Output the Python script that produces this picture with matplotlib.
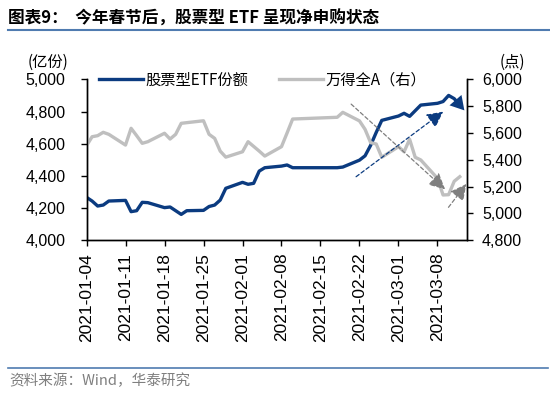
import pandas as pd
import matplotlib
matplotlib.use("Agg")
import matplotlib.pyplot as plt
import matplotlib.dates as mdates
from matplotlib.lines import Line2D
from matplotlib.ticker import StrMethodFormatter
from matplotlib.transforms import offset_copy

cjk = ['Noto Sans CJK SC', 'DejaVu Sans']
plt.rcParams['font.family'] = ['Liberation Sans', 'Noto Sans CJK SC', 'DejaVu Sans']

# trading days (Spring Festival break Feb 11-17)
dates = pd.to_datetime([
    '2021-01-04', '2021-01-05', '2021-01-06', '2021-01-07', '2021-01-08',
    '2021-01-11', '2021-01-12', '2021-01-13', '2021-01-14', '2021-01-15',
    '2021-01-18', '2021-01-19', '2021-01-20', '2021-01-21', '2021-01-22',
    '2021-01-25', '2021-01-26', '2021-01-27', '2021-01-28', '2021-01-29',
    '2021-02-01', '2021-02-02', '2021-02-03', '2021-02-04', '2021-02-05',
    '2021-02-08', '2021-02-09', '2021-02-10',
    '2021-02-18', '2021-02-19',
    '2021-02-22', '2021-02-23', '2021-02-24', '2021-02-25', '2021-02-26',
    '2021-03-01', '2021-03-02', '2021-03-03', '2021-03-04', '2021-03-05',
    '2021-03-08', '2021-03-09', '2021-03-10', '2021-03-11', '2021-03-12',
])

# 股票型ETF份额 (亿份), left axis
etf_share = [
    4267, 4244, 4213, 4219, 4244,
    4248, 4178, 4184, 4236, 4234,
    4203, 4207, 4184, 4161, 4184,
    4186, 4210, 4219, 4250, 4323,
    4360, 4348, 4354, 4430, 4451,
    4461, 4468, 4451,
    4451, 4455,
    4498, 4525, 4590, 4670, 4745,
    4772, 4789, 4770, 4805, 4840,
    4851, 4862, 4900, 4880, 4840,
]

# 万得全A (点), right axis
wind_a = [
    5505, 5572, 5580, 5605, 5590,
    5510, 5635, 5580, 5523, 5535,
    5598, 5555, 5590, 5672, 5677,
    5691, 5590, 5560, 5465, 5420,
    5460, 5535, 5500, 5465, 5428,
    5498, 5600, 5704,
    5717, 5754,
    5690, 5627, 5528, 5518, 5419,
    5498, 5460, 5553, 5419, 5399,
    5262, 5138, 5140, 5240, 5274,
]

tick_dates = pd.date_range('2021-01-04', '2021-03-08', freq='7D')
left_ticks = list(range(4000, 5001, 200))
right_ticks = list(range(4800, 6001, 200))

BLUE = '#0b3b80'
GREY = '#bfbfbf'
DGREY = '#7f7f7f'

fig = plt.figure(figsize=(5.5, 3.99), dpi=100)
ax = fig.add_axes([0.1573, 0.3977, 0.6913, 0.4035])
ax2 = ax.twinx()

l1, = ax.plot(dates, etf_share, color=BLUE, lw=2.4, solid_joinstyle='round')
# arrow head at the end of the ETF line, tip pushed a little past the last point
tip = offset_copy(ax.transData, fig=fig, x=4.6, y=-5.3, units='dots')
ax.annotate('', xy=(mdates.date2num(dates[-1]), etf_share[-1]), xycoords=tip,
            xytext=(mdates.date2num(dates[-2]), etf_share[-2]), textcoords='data',
            arrowprops=dict(arrowstyle='-|>,head_length=0.65,head_width=0.38',
                            color=BLUE, lw=0, mutation_scale=15,
                            shrinkA=0, shrinkB=0))
l2, = ax2.plot(dates, wind_a, color=GREY, lw=2.4, solid_joinstyle='round')

ax.set_xlim(dates[0], dates[0] + pd.Timedelta(days=68.25))
ax.set_ylim(4000, 5000)
ax2.set_ylim(4800, 6000)
ax.set_yticks(left_ticks)
ax2.set_yticks(right_ticks)
ax.yaxis.set_major_formatter(StrMethodFormatter('{x:,.0f}'))
ax2.yaxis.set_major_formatter(StrMethodFormatter('{x:,.0f}'))
ax.set_xticks(tick_dates)
ax.set_xticklabels([d.strftime('%Y-%m-%d') for d in tick_dates], rotation=90)

for a in (ax, ax2):
    a.spines['top'].set_visible(False)
    for s in ('left', 'right', 'bottom'):
        a.spines[s].set_linewidth(1.0)
        a.spines[s].set_color('black')
ax.tick_params(axis='y', direction='out', length=4, width=1, labelsize=11.5, pad=11)
ax2.tick_params(axis='y', direction='out', length=4, width=1, labelsize=11.5, pad=7)
ax.tick_params(axis='x', direction='out', length=4, width=1, labelsize=12.5, pad=5)

# trend arrows
def dash_arrow(start, end, color):
    ax2.annotate('', xy=end, xytext=start, xycoords='axes fraction',
                 textcoords='axes fraction',
                 arrowprops=dict(arrowstyle='-|>,head_length=0.65,head_width=0.33',
                                 color=color, lw=0.9, ls=(0, (3, 2)),
                                 mutation_scale=15, shrinkA=0, shrinkB=0))

dash_arrow((0.709, 0.395), (0.938, 0.799), BLUE)
dash_arrow((0.696, 0.846), (0.943, 0.317), DGREY)
dash_arrow((0.952, 0.205), (0.999, 0.35), DGREY)

ax2.legend([l1, l2], ['股票型ETF份额', '万得全A（右）'], ncol=2,
           loc='center left', bbox_to_anchor=(0.033, 0.995), frameon=False,
           borderpad=0, borderaxespad=0, handlelength=2.9, handletextpad=0.15,
           columnspacing=2.0, prop=dict(family=cjk, size=11))

fig.text(48 / 550, 1 - 62 / 399, '(亿份)', ha='center', va='center',
         fontsize=11, family=cjk)
fig.text(512 / 550, 1 - 62 / 399, '(点)', ha='center', va='center',
         fontsize=11, family=cjk)

# header and footer
fig.text(0.0145, 1 - 19 / 399, '图表9：  今年春节后，股票型 ETF 呈现净申购状态',
         fontsize=12, fontweight='bold', family=cjk, va='center')
fig.add_artist(Line2D([0.015, 1.0], [1 - 30 / 399] * 2, transform=fig.transFigure,
                      color='#4f7bb0', lw=1.5))
fig.add_artist(Line2D([0.015, 0.997], [1 - 368 / 399] * 2, transform=fig.transFigure,
                      color='#4f7bb0', lw=1.2))
fig.text(9 / 550, 1 - 381 / 399, '资料来源：Wind，华泰研究', color=DGREY,
         fontsize=10.5, family=cjk, va='center')

fig.savefig('out.png', dpi=100)
